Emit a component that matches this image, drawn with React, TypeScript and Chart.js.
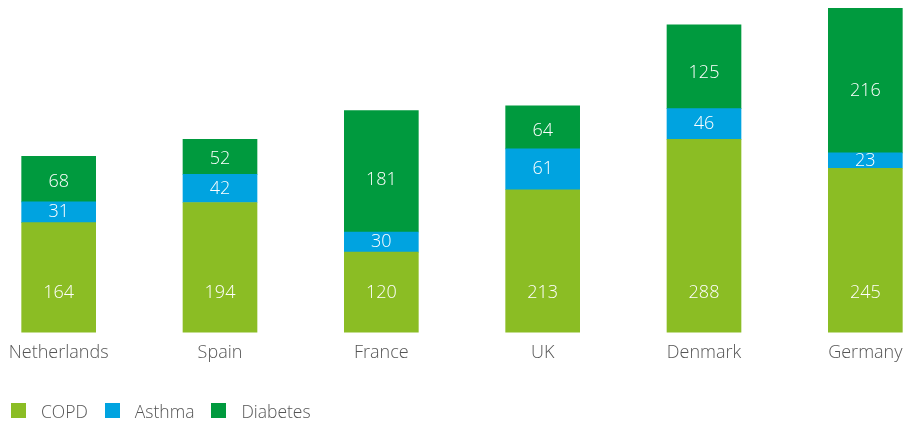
import React, { useEffect, useRef } from "react";
import { Chart, registerables } from "chart.js";

Chart.register(...registerables);

const categories = ["Netherlands", "Spain", "France", "UK", "Denmark", "Germany"];
const copd = [164, 194, 120, 213, 288, 245];
const asthma = [31, 42, 30, 61, 46, 23];
const diabetes = [68, 52, 181, 64, 125, 216];

const seriesNames = ["COPD", "Asthma", "Diabetes"];
const seriesColors = ["#8BBD24", "#00A3E0", "#009A3E"];
const seriesValues = [copd, asthma, diabetes];

const FONT = "'Open Sans', 'Noto Sans', sans-serif";

const valueLabelPlugin = {
  id: "valueLabels",
  afterDatasetsDraw(chart: any) {
    const ctx = chart.ctx;
    ctx.save();
    ctx.fillStyle = "#ffffff";
    ctx.font = `300 18px ${FONT}`;
    ctx.textAlign = "center";
    ctx.textBaseline = "middle";
    const last = chart.data.datasets.length - 1;
    chart.data.datasets.forEach((ds: any, di: number) => {
      const meta = chart.getDatasetMeta(di);
      meta.data.forEach((el: any, i: number) => {
        const { x, y, base } = el.getProps(["x", "y", "base"], true);
        const h = base - y;
        let off = h / 2;
        if (di === 0) off = Math.min(h / 2, 40);
        else if (di === last) off = h * 0.43;
        ctx.fillText(String(ds.data[i]), x, base - off);
      });
    });
    ctx.restore();
  },
};

export default function App() {
  const canvasRef = useRef<HTMLCanvasElement | null>(null);

  useEffect(() => {
    document.body.style.overflow = "hidden";
    const totals = categories.map((_, i) => copd[i] + asthma[i] + diabetes[i]);
    const chart = new Chart(canvasRef.current as HTMLCanvasElement, {
      type: "bar",
      data: {
        labels: categories,
        datasets: seriesNames.map((name, k) => ({
          label: name,
          data: seriesValues[k],
          backgroundColor: seriesColors[k],
          borderWidth: 0,
          barThickness: 74,
        })),
      },
      options: {
        animation: false,
        responsive: true,
        maintainAspectRatio: false,
        layout: { padding: { top: 8, bottom: 48.8, left: 0, right: 0 } },
        plugins: {
          legend: { display: false },
          tooltip: { enabled: false },
        },
        scales: {
          x: {
            stacked: true,
            grid: { display: false, drawTicks: false },
            border: { display: false },
            ticks: {
              color: "#555555",
              font: { family: FONT, size: 18, weight: 300 as any },
              padding: 9,
              maxRotation: 0,
            },
          },
          y: {
            stacked: true,
            display: false,
            min: 0,
            max: Math.max(...totals),
          },
        },
      },
      plugins: [valueLabelPlugin],
    });
    return () => chart.destroy();
  }, []);

  return (
    <div
      style={{
        position: "fixed",
        left: 0,
        top: 0,
        width: 923,
        height: 421,
        overflow: "hidden",
        background: "#ffffff",
      }}
    >
      <div style={{ position: "absolute", left: -22, top: 0, width: 968, height: 421 }}>
        <canvas ref={canvasRef} />
      </div>
      <div
        style={{
          position: "absolute",
          left: 11,
          top: 400,
          height: 21,
          display: "flex",
          alignItems: "center",
          fontFamily: FONT,
          fontWeight: 300,
          fontSize: 17.5,
          color: "#555555",
        }}
      >
        {seriesNames.map((name, k) => (
          <div key={name} style={{ display: "flex", alignItems: "center", marginRight: 17 }}>
            <span
              style={{
                display: "inline-block",
                width: 15,
                height: 15,
                background: seriesColors[k],
                marginRight: 15,
              }}
            />
            <span>{name}</span>
          </div>
        ))}
      </div>
    </div>
  );
}
